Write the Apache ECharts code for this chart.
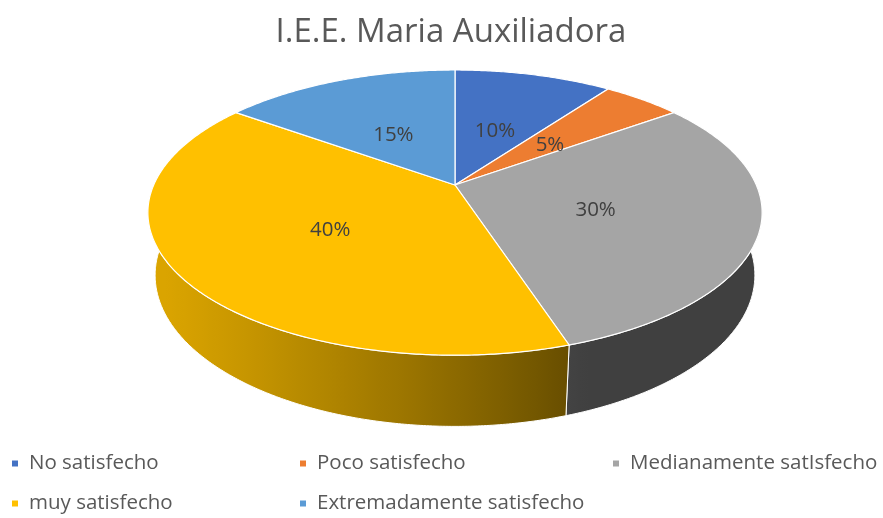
<!DOCTYPE html>
<html>
<head>
<meta charset="utf-8">
<script src="https://cdn.jsdelivr.net/npm/echarts@6/dist/echarts.min.js"></script>
<style>
  html, body { margin: 0; padding: 0; background: #fff; }
  #chart { width: 883px; height: 518px; }
</style>
</head>
<body>
<div id="chart"></div>
<script>
// datos
var categories = ['No satisfecho', 'Poco satisfecho', 'Medianamente satIsfecho', 'muy satisfecho', 'Extremadamente satisfecho'];
var values = [10, 5, 30, 40, 15];
var colors = ['#4472C4', '#ED7D31', '#A5A5A5', '#FFC000', '#5B9BD5'];

// camara del pastel 3D
var CX = 455, CY = 185, D = 4.6, F = 1386, H = 0.235;
var ALPHA = 27.1 * Math.PI / 180;
var sinA = Math.sin(ALPHA), cosA = Math.cos(ALPHA);
var LIGHT = -160 * Math.PI / 180;

var total = values.reduce(function (a, b) { return a + b; }, 0);

function proj(phi, r, z) {
    var X = r * Math.cos(phi), Y = r * Math.sin(phi);
    var depth = D + Y * cosA - z * sinA;
    return [CX + F * X / depth, CY - F * (Y * sinA + z * cosA) / depth];
}
function angle(t) { return Math.PI / 2 - 2 * Math.PI * t; }

function shade(hex, phi) {
    var k = 0.39 + 0.47 * Math.max(0, Math.cos(phi - LIGHT));
    var n = parseInt(hex.slice(1), 16);
    var r = Math.round(((n >> 16) & 255) * k), g = Math.round(((n >> 8) & 255) * k), b = Math.round((n & 255) * k);
    return 'rgb(' + r + ',' + g + ',' + b + ')';
}

function makeRender(i) {
    return function (params, api) {
        var before = 0;
        for (var j = 0; j < i; j++) before += values[j];
        var t0 = before / total, t1 = (before + api.value(0)) / total;
        var children = [];

        // pared lateral (solo la parte frontal)
        var w0 = Math.max(t0, 0.25), w1 = Math.min(t1, 0.75);
        if (w1 > w0) {
            var topArc = [], botArc = [], n = Math.max(2, Math.ceil((w1 - w0) * 720));
            for (var s = 0; s <= n; s++) {
                var ph = angle(w0 + (w1 - w0) * s / n);
                topArc.push(proj(ph, 1, 0));
                botArc.push(proj(ph, 1, -H));
            }
            var pts = topArc.concat(botArc.reverse());
            var minx = Infinity, maxx = -Infinity;
            pts.forEach(function (p) { minx = Math.min(minx, p[0]); maxx = Math.max(maxx, p[0]); });
            var stops = [];
            for (var s2 = 0; s2 <= 40; s2++) {
                var ph2 = angle(w0 + (w1 - w0) * s2 / 40);
                if (Math.sin(ph2) > -0.19) continue;
                var x = proj(ph2, 1, 0)[0];
                stops.push({ offset: (x - minx) / (maxx - minx), color: shade(colors[i], ph2) });
            }
            stops.sort(function (a, b) { return a.offset - b.offset; });
            var fill = stops.length > 1
                ? new echarts.graphic.LinearGradient(0, 0, 1, 0, stops)
                : shade(colors[i], angle((w0 + w1) / 2));
            children.push({
                type: 'polygon', z2: 1,
                shape: { points: pts },
                style: { fill: fill, stroke: '#fff', lineWidth: 1 }
            });
        }

        // cara superior
        var face = [proj(0, 0, 0)], m = Math.max(4, Math.ceil((t1 - t0) * 720));
        for (var k = 0; k <= m; k++) face.push(proj(angle(t0 + (t1 - t0) * k / m), 1, 0));
        children.push({
            type: 'polygon', z2: 2,
            shape: { points: face },
            style: { fill: colors[i], stroke: '#fff', lineWidth: 1.2 }
        });

        // etiqueta
        var lp = proj(angle((t0 + t1) / 2), 0.48, 0);
        children.push({
            type: 'text', z2: 10,
            x: lp[0] - 1, y: lp[1] + 4,
            style: {
                text: Math.round(api.value(0) / total * 100) + '%',
                fill: '#404040', font: '20.5px "Open Sans"',
                align: 'center', verticalAlign: 'middle'
            }
        });
        return { type: 'group', children: children };
    };
}

var legendPos = [[12, 453], [300, 453], [613, 453], [12, 493], [300, 493]];

var chart = echarts.init(document.getElementById('chart'));
chart.setOption({
    animation: false,
    textStyle: { fontFamily: 'Open Sans' },
    title: {
        text: 'I.E.E. Maria Auxiliadora',
        left: 446, top: 11, textAlign: 'center',
        textStyle: { fontSize: 33, fontWeight: 'normal', color: '#595959', fontFamily: 'Open Sans' }
    },
    legend: categories.map(function (c, i) {
        return {
            data: [c], left: legendPos[i][0], top: legendPos[i][1],
            padding: 0, icon: 'rect', itemWidth: 6, itemHeight: 6,
            selectedMode: false,
            textStyle: { fontSize: 20.5, color: '#595959', padding: [0, 0, 0, 6] }
        };
    }),
    series: categories.map(function (c, i) {
        return {
            type: 'custom', name: c, coordinateSystem: 'none',
            itemStyle: { color: colors[i] },
            data: [values[i]],
            renderItem: makeRender(i)
        };
    })
});
</script>
</body>
</html>
